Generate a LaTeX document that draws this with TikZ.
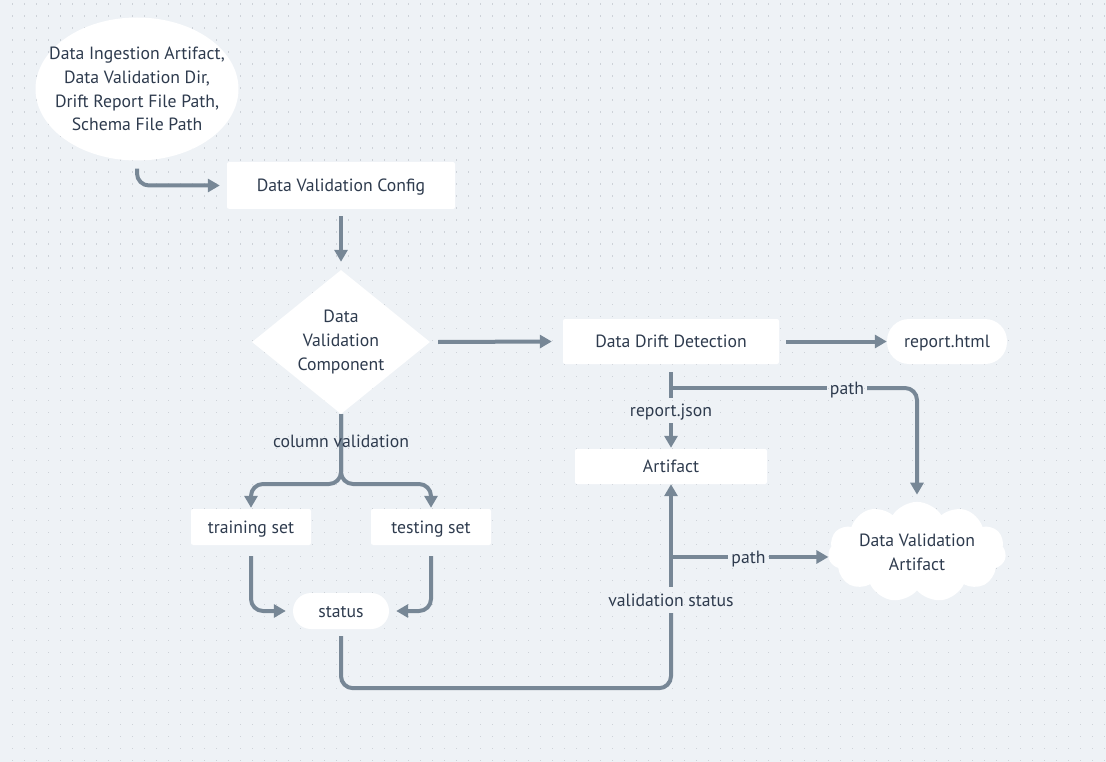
\documentclass[tikz,border=0pt]{standalone}
\usepackage{fontspec}
\setmainfont{PT Sans}
\usetikzlibrary{arrows.meta,shapes.geometric,shapes.symbols}
\definecolor{bg}{HTML}{EEF2F6}
\definecolor{dotc}{HTML}{CDD2D8}
\definecolor{ink}{HTML}{2E3B4E}
\definecolor{wire}{HTML}{778796}
\tikzset{
  every node/.style={text=ink, font=\fontsize{17.7}{23.8}\selectfont},
  oneline/.style={text height=12.4pt, text depth=0pt},
  box/.style={oneline, fill=white, rounded corners=2pt, inner sep=0pt, align=center},
  pill/.style={oneline, fill=white, rounded corners=18pt, inner sep=0pt, align=center},
  lbl/.style={oneline, inner sep=0pt, fill=none},
  wireline/.style={draw=wire, line width=4pt, rounded corners=12pt},
  arrowline/.style={wireline, -{Triangle[length=12pt,width=13pt]}},
}
\begin{document}
\begin{tikzpicture}[x=1pt,y=-1pt]
  % canvas and dot grid
  \fill[bg] (0,0) rectangle (1106,762);
  \useasboundingbox (0,0) rectangle (1106,762);
  \foreach \gx in {12,24,...,1104}{
    \foreach \gy in {4,16,...,760}{
      \fill[dotc] (\gx-0.5,\gy-0.5) rectangle ++(1.1,1.1);
    }
  }

  % nodes
  \node[ellipse, fill=white, minimum width=203pt, minimum height=143pt, inner sep=-24pt, align=center]
    (inputs) at (137,89) {Data Ingestion Artifact,\\Data Validation Dir,\\Drift Report File Path,\\Schema File Path};
  \node[box, minimum width=228pt, minimum height=47pt] (cfg) at (341,185.5) {Data Validation Config};
  \node[diamond, fill=white, minimum width=178pt, minimum height=144pt, aspect=1.236, inner sep=0pt, align=center]
    (comp) at (341,342) {Data\\Validation\\Component};
  \node[box, minimum width=216pt, minimum height=45pt] (drift) at (671,341.5) {Data Drift Detection};
  \node[pill, rounded corners=22pt, minimum width=120pt, minimum height=45pt] (html) at (947,341.5) {report.html};
  \node[box, minimum width=192pt, minimum height=35pt] (art) at (671,466.5) {Artifact};
  \node[box, minimum width=120pt, minimum height=36pt] (train) at (251,527) {training set};
  \node[box, minimum width=120pt, minimum height=36pt] (test) at (431,527) {testing set};
  \node[pill, minimum width=96pt, minimum height=36pt] (status) at (341,611) {status};
  \node[cloud, fill=white, cloud puffs=11, cloud puff arc=115, aspect=2.1,
        minimum width=178pt, minimum height=84pt, inner sep=0pt, align=center]
    (dva) at (917,552) {Data Validation\\Artifact};

  % connector labels
  \node[lbl, minimum height=25pt] (rj) at (671,410.5) {report.json};
  \node[lbl, minimum width=40pt] (p1) at (847,388) {path};
  \node[lbl, minimum width=41pt] (p2) at (748.5,557) {path};
  \node[lbl, minimum height=26pt] (vs) at (671,600) {validation status};
  \coordinate (tee) at (671,388);
  \coordinate (fork) at (341,484);
  \coordinate (junc) at (671,557);

  % connectors
  \draw[arrowline] ([yshift=-8pt]inputs.south) |- ([xshift=-7pt]cfg.west);
  \draw[arrowline] ([yshift=-7pt]cfg.south) -- ([yshift=8pt]comp.north);
  \draw[arrowline] ([xshift=8pt]comp.east) -- ([xshift=-11pt]drift.west);
  \draw[arrowline] ([xshift=7pt]drift.east) -- (html.west);

  \draw[wireline] ([yshift=-8pt]drift.south) -- (rj.north);
  \draw[arrowline] (rj.south) -- ([yshift=1pt]art.north);
  \draw[wireline] (tee) -- (p1.west);
  \draw[arrowline] (p1.east) -| ([yshift=7pt]dva.north);

  \draw[arrowline] (comp.south) -- (fork) -| ([yshift=1pt]train.north);
  \draw[arrowline] (comp.south) -- (fork) -| ([yshift=1pt]test.north);
  \node[lbl] (colval) at (341,441) {column validation};

  \draw[arrowline] ([yshift=-11pt]train.south) |- ([xshift=-7pt]status.west);
  \draw[arrowline] ([yshift=-11pt]test.south) |- ([xshift=7pt]status.east);

  \draw[wireline] ([yshift=-7pt]status.south) -- ++(0,52) -| (vs.south);
  \draw[arrowline] (vs.north) -- (art.south);
  \draw[wireline] (junc) -- (p2.west);
  \draw[arrowline] (p2.east) -- (p2.east -| dva.west);
\end{tikzpicture}
\end{document}
